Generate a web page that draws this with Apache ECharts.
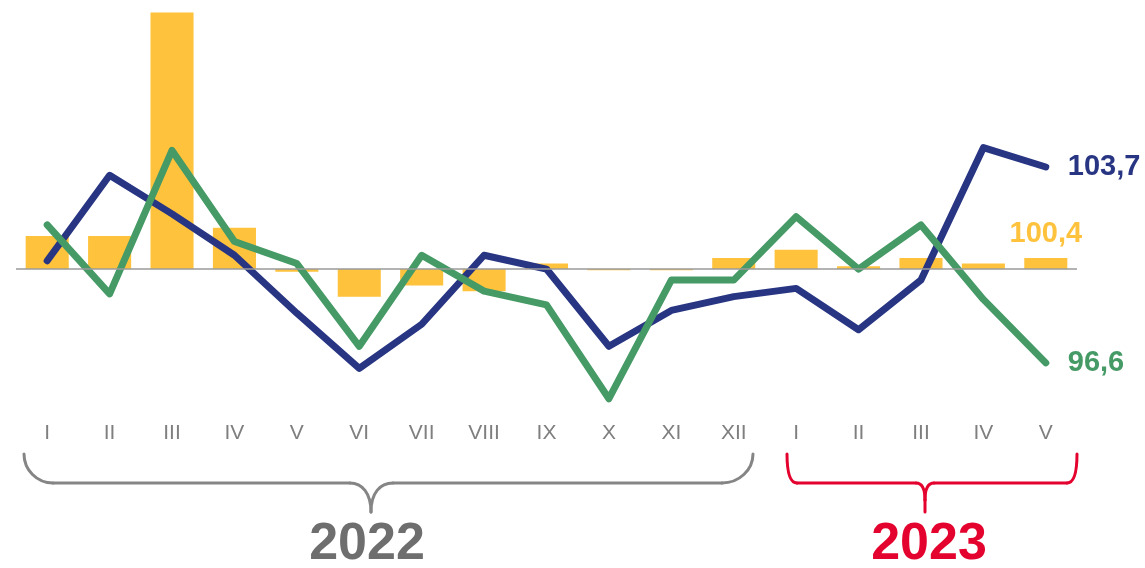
<!DOCTYPE html>
<html>
<head>
<meta charset="utf-8">
<title>chart</title>
<script src="https://cdn.jsdelivr.net/npm/echarts@6/dist/echarts.min.js"></script>
<style>
  html, body { margin: 0; padding: 0; background: #fff; }
  #main { width: 1145px; height: 568px; }
</style>
</head>
<body>
<div id="main"></div>
<script>
// months: 2022 I-XII, 2023 I-V
var months = ['I', 'II', 'III', 'IV', 'V', 'VI', 'VII', 'VIII', 'IX', 'X', 'XI', 'XII', 'I', 'II', 'III', 'IV', 'V']
var blueVals = [100.3, 103.4, 102.0, 100.5, 98.4, 96.4, 98.0, 100.5, 100.0, 97.2, 98.5, 99.0, 99.3, 97.8, 99.6, 104.4, 103.7]
var greenVals = [101.6, 99.1, 104.3, 101.0, 100.2, 97.2, 100.5, 99.2, 98.7, 95.3, 99.6, 99.6, 101.9, 100.0, 101.6, 98.9, 96.6]
var barVals = [101.2, 101.2, 109.3, 101.5, 99.9, 99.0, 99.4, 99.2, 100.2, 99.96, 99.96, 100.4, 100.7, 100.1, 100.4, 100.2, 100.4]
var years = ['2022', '2023']

var BLUE = '#283583'
var GREEN = '#459a65'
var YELLOW = '#ffc23d'
var GREY = '#858585'
var RED = '#e4032e'
var FONT = '"Liberation Sans", Arial, sans-serif'

function fmt(v) {
  return v.toFixed(1).replace('.', ',')
}

// bars are drawn as deviation from 100 on a second axis with the same scale
var barData = barVals.map(function (v, i) {
  var item = { value: +(v - 100).toFixed(2) }
  if (i === barVals.length - 1) {
    item.label = {
      show: true,
      position: 'top',
      distance: 10,
      color: YELLOW,
      fontFamily: FONT,
      fontWeight: 'bold',
      fontSize: 29,
      formatter: function () { return fmt(v) }
    }
  }
  return item
})

// brace pieces
function curve(x1, y1, c1x, c1y, c2x, c2y, x2, y2, color) {
  return {
    type: 'bezierCurve',
    shape: { x1: x1, y1: y1, cpx1: c1x, cpy1: c1y, cpx2: c2x, cpy2: c2y, x2: x2, y2: y2 },
    style: { fill: 'none', stroke: color, lineWidth: 3, lineCap: 'round' }
  }
}
function seg(x1, y1, x2, y2, color) {
  return {
    type: 'line',
    shape: { x1: x1, y1: y1, x2: x2, y2: y2 },
    style: { stroke: color, lineWidth: 3, lineCap: 'round' }
  }
}

var braces = [
  // 2022
  curve(24, 454, 24, 470, 37, 483, 53, 483, GREY),
  seg(53, 483, 350, 483, GREY),
  curve(350, 483, 362, 483, 371, 493, 371, 512, GREY),
  curve(371, 512, 371, 493, 380, 483, 393, 483, GREY),
  seg(393, 483, 722, 483, GREY),
  curve(722, 483, 739, 483, 753, 470, 753, 454, GREY),
  // 2023
  curve(787, 454, 787, 470, 789, 483, 797, 483, RED),
  seg(797, 483, 916, 483, RED),
  curve(916, 483, 922, 483, 925, 488, 925, 500, RED),
  seg(925, 500, 925, 512, RED),
  curve(925, 500, 925, 488, 928, 483, 934, 483, RED),
  seg(934, 483, 1067, 483, RED),
  curve(1067, 483, 1075, 483, 1077, 470, 1077, 454, RED)
]

var chart = echarts.init(document.getElementById('main'))

var option = {
  animation: false,
  grid: { left: 16, right: 68, top: 7, height: 400 },
  xAxis: {
    type: 'category',
    data: months,
    boundaryGap: true,
    axisLine: { show: false },
    axisTick: { show: false },
    axisLabel: {
      color: '#7f7f7f',
      fontFamily: FONT,
      fontSize: 21,
      margin: 16
    }
  },
  yAxis: [
    { type: 'value', min: 95, max: 109.5, show: false, splitLine: { show: false } },
    { type: 'value', min: -5, max: 9.5, show: false, splitLine: { show: false } }
  ],
  series: [
    {
      name: 'bars',
      type: 'bar',
      yAxisIndex: 1,
      barCategoryGap: '31%',
      itemStyle: { color: YELLOW },
      data: barData,
      markLine: {
        silent: true,
        symbol: 'none',
        label: { show: false },
        lineStyle: { color: '#9a9a9a', width: 1.5, type: 'solid' },
        data: [{ yAxis: 0 }]
      }
    },
    {
      name: 'blue',
      type: 'line',
      data: blueVals,
      symbol: 'none',
      lineStyle: { color: BLUE, width: 7, cap: 'round', join: 'round' },
      endLabel: {
        show: true,
        distance: 22,
        color: BLUE,
        fontFamily: FONT,
        fontWeight: 'bold',
        fontSize: 29,
        formatter: function (p) { return fmt(p.value) }
      }
    },
    {
      name: 'green',
      type: 'line',
      data: greenVals,
      symbol: 'none',
      lineStyle: { color: GREEN, width: 7, cap: 'round', join: 'round' },
      endLabel: {
        show: true,
        distance: 22,
        color: GREEN,
        fontFamily: FONT,
        fontWeight: 'bold',
        fontSize: 29,
        formatter: function (p) { return fmt(p.value) }
      }
    }
  ],
  // year braces and year captions
  graphic: braces.concat([
    {
      type: 'text',
      x: 367,
      y: 545,
      style: {
        text: years[0],
        fill: '#6e6e6e',
        font: 'bold 52px ' + FONT,
        textAlign: 'center',
        textVerticalAlign: 'middle'
      }
    },
    {
      type: 'text',
      x: 929,
      y: 545,
      style: {
        text: years[1],
        fill: RED,
        font: 'bold 52px ' + FONT,
        textAlign: 'center',
        textVerticalAlign: 'middle'
      }
    }
  ])
}

chart.setOption(option)
</script>
</body>
</html>
